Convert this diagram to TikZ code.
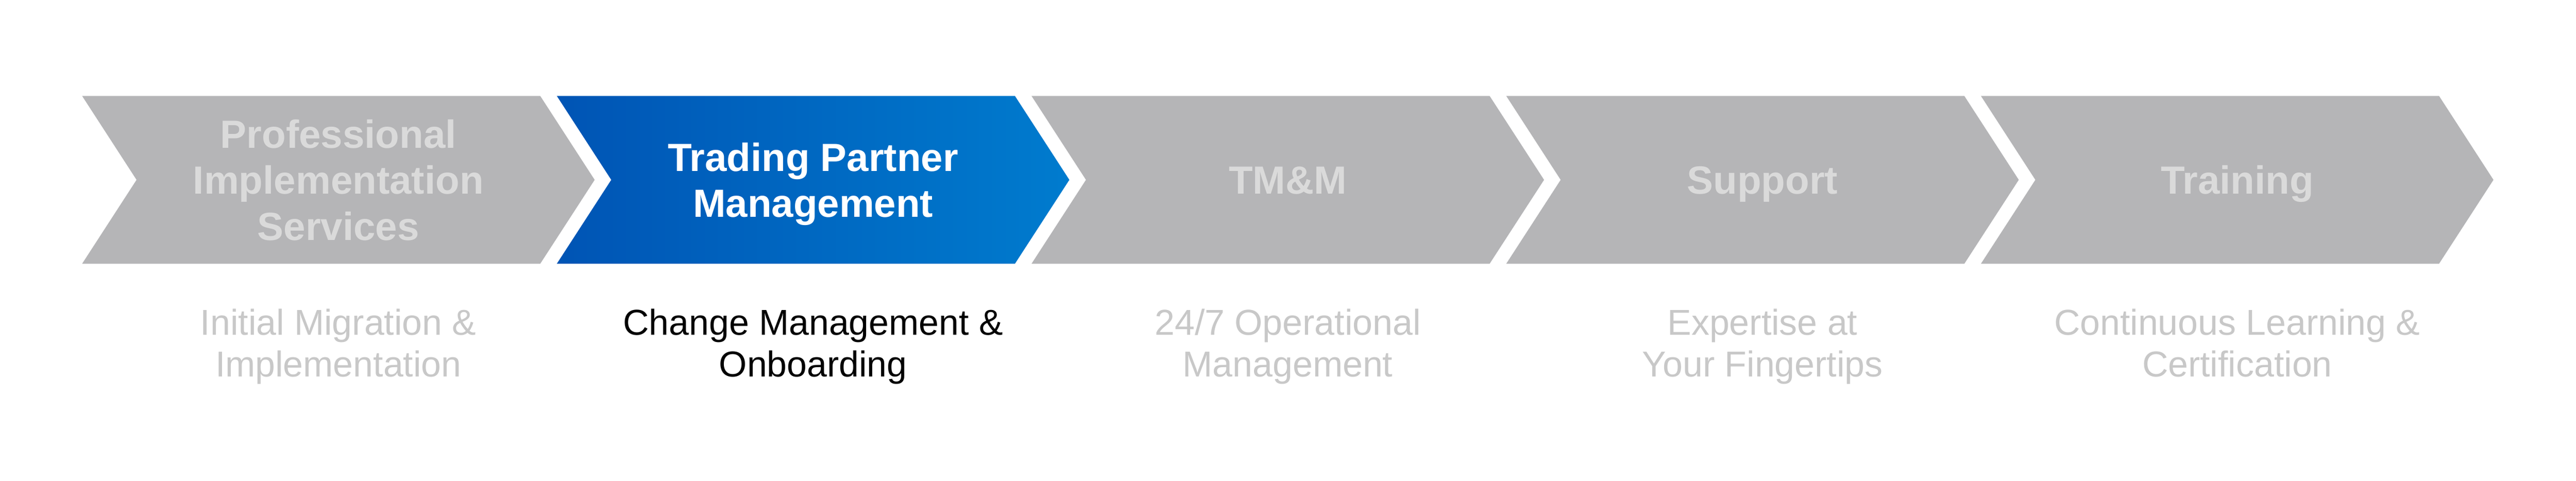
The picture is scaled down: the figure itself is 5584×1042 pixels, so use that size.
\documentclass[tikz,border=0pt]{standalone}
\usepackage{fontspec}
\setmainfont{Liberation Sans}
\definecolor{chev}{HTML}{B5B5B7}
\definecolor{ttlgray}{HTML}{DADADA}
\definecolor{subgray}{HTML}{C8C8C8}
\definecolor{bA}{HTML}{2247A6}
\definecolor{bB}{HTML}{0055B5}
\definecolor{bC}{HTML}{008FDB}
\pgfdeclarehorizontalshading{bluegrad}{100bp}{color(0bp)=(bA); color(26bp)=(bB); color(100bp)=(bC)}
\newcommand\stacklines[1]{\vtop{\halign{\hfil##\hfil\cr#1\crcr}}}
\tikzset{
  ttl/.style={anchor=base, inner sep=0pt, font=\fontsize{21.3}{25}\selectfont\bfseries},
  sublbl/.style={anchor=base, inner sep=0pt, font=\fontsize{19.5}{22.5}\selectfont},
  chevgray/.style={fill=chev},
  chevblue/.style={shading=bluegrad},
}
\begin{document}
\begin{tikzpicture}[x=0.25pt,y=-0.25pt]
\useasboundingbox[fill=white] (0,0) rectangle (5584,1042);
% chevrons
\foreach \i in {0,...,4}{
  \pgfmathsetmacro\L{178+1029*\i}
  \ifnum\i=1
    \path[chevblue] (\L,208) -- ({\L+993},208) -- ({\L+1111},390) -- ({\L+993},572) -- (\L,572) -- ({\L+118},390) -- cycle;
  \else
    \path[chevgray] (\L,208) -- ({\L+993},208) -- ({\L+1111},390) -- ({\L+993},572) -- (\L,572) -- ({\L+118},390) -- cycle;
  \fi
}
% titles
\node[ttl, text=ttlgray] (t1) at (733.5,321) {\stacklines{Professional\cr Implementation\cr Services}};
\node[ttl, text=white]   (t2) at (1762.5,371) {\stacklines{Trading Partner\cr Management}};
\node[ttl, text=ttlgray] (t3) at (2791.5,421) {TM\&M};
\node[ttl, text=ttlgray] (t4) at (3820.5,421) {Support};
\node[ttl, text=ttlgray] (t5) at (4849.5,421) {Training};
% subtitles
\node[sublbl, text=subgray] (s1) at (733.5,727) {\stacklines{Initial Migration \&\cr Implementation}};
\node[sublbl, text=black]   (s2) at (1762.5,727) {\stacklines{Change Management \&\cr Onboarding}};
\node[sublbl, text=subgray] (s3) at (2791.5,727) {\stacklines{24/7 Operational\cr Management}};
\node[sublbl, text=subgray] (s4) at (3820.5,727) {\stacklines{Expertise at\cr Your Fingertips}};
\node[sublbl, text=subgray] (s5) at (4849.5,727) {\stacklines{Continuous Learning \&\cr Certification}};
\end{tikzpicture}
\end{document}
